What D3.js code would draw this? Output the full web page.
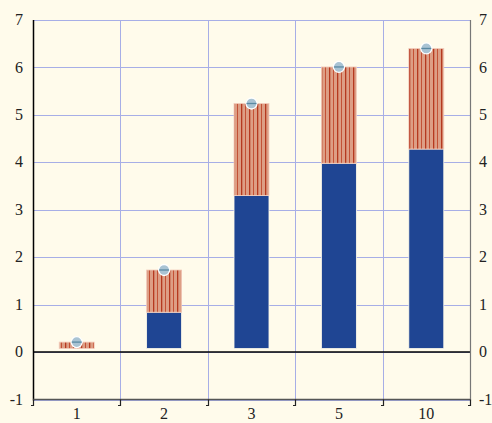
<!DOCTYPE html>
<html><head><meta charset="utf-8">
<script src="https://cdn.jsdelivr.net/npm/d3@7"></script>
<style>html,body{margin:0;padding:0;background:#fffbeb;}svg{display:block}</style>
</head><body><svg id="c" width="492" height="423"></svg>
<script>
const categories = ["1","2","3","5","10"];
const baseValues = [0.0, 0.84, 3.30, 3.98, 4.28];
const topValues = [0.21, 0.89, 1.94, 2.03, 2.12];
const markerValues = [0.21, 1.73, 5.24, 6.01, 6.40];
const yTicks = [-1,0,1,2,3,4,5,6,7];

const svg = d3.select("#c");
const W=492,H=423;
svg.append("rect").attr("width",W).attr("height",H).attr("fill","#fffbeb");
const m={l:33,r:470,t:20,b:399.5};
const x=d3.scaleBand().domain(categories).range([m.l,m.r]).paddingInner(0).paddingOuter(0);
const y=d3.scaleLinear().domain([-1,7]).range([m.b,m.t]);
const font="'Liberation Serif','Times New Roman',serif";

const defs=svg.append("defs");
const pat=defs.append("pattern").attr("id","hatch").attr("patternUnits","userSpaceOnUse").attr("width",8).attr("height",10);
pat.append("rect").attr("width",8).attr("height",10).attr("fill","#dd9e85");
pat.append("rect").attr("x",1).attr("width",1.3).attr("height",10).attr("fill","#b5391f");
pat.append("rect").attr("x",5).attr("width",0.9).attr("height",10).attr("fill","#c0482c");

// grid
const g=svg.append("g");
g.selectAll(".hg").data(yTicks).join("line").attr("x1",m.l).attr("x2",m.r)
 .attr("y1",d=>Math.round(y(d))+0.5).attr("y2",d=>Math.round(y(d))+0.5).attr("stroke","#a7aee6").attr("stroke-width",1);
const bounds=categories.slice(1).map(c=>x(c));
g.selectAll(".vg").data(bounds).join("line").attr("x1",d=>Math.round(d)+0.5).attr("x2",d=>Math.round(d)+0.5)
 .attr("y1",m.t).attr("y2",m.b).attr("stroke","#a7aee6");

// bars
const bw=x.bandwidth()*0.4;
const off=3.5;
const bars=svg.append("g");
categories.forEach((c,i)=>{
  const cx=x(c)+x.bandwidth()/2;
  const b0=y(0)-off, b1=y(baseValues[i]);
  if(baseValues[i]>0){
    bars.append("rect").attr("x",cx-bw/2).attr("y",b1).attr("width",bw).attr("height",b0-b1)
      .attr("fill","#1f4593").attr("stroke","#fffbeb").attr("stroke-width",0.8);
  }
  const t0=baseValues[i]>0?b1:b0, t1=y(baseValues[i]+topValues[i]);
  bars.append("rect").attr("x",cx-bw/2).attr("y",t1).attr("width",bw).attr("height",t0-t1)
    .attr("fill","url(#hatch)").attr("stroke","#f3cdbd").attr("stroke-width",0.8);
});

// zero line
svg.append("line").attr("x1",m.l).attr("x2",m.r).attr("y1",y(0)).attr("y2",y(0)).attr("stroke","#000").attr("stroke-width",1.5);

// markers
const mk=svg.append("g");
categories.forEach((c,i)=>{
  const cx=x(c)+x.bandwidth()/2, cy=y(markerValues[i]);
  mk.append("circle").attr("cx",cx).attr("cy",cy).attr("r",5.5).attr("fill","#a9c3d3").attr("stroke","#ffffff").attr("stroke-width",1.3);
  mk.append("line").attr("x1",cx-5).attr("x2",cx+5).attr("y1",cy).attr("y2",cy).attr("stroke","#5b8aa3").attr("stroke-width",1.3);
});

// axes
svg.append("line").attr("x1",m.l+0.5).attr("x2",m.l+0.5).attr("y1",m.t).attr("y2",m.b+1).attr("stroke","#000").attr("stroke-width",1.5);
svg.append("line").attr("x1",m.r+0.5).attr("x2",m.r+0.5).attr("y1",m.t).attr("y2",m.b+1).attr("stroke","#777").attr("stroke-width",1.2);
svg.append("line").attr("x1",m.l).attr("x2",m.r).attr("y1",m.b).attr("y2",m.b).attr("stroke","#555").attr("stroke-width",1.3);
const ticks=[m.l,...bounds,m.r];
ticks.forEach(t=>{
  const tx=Math.round(t)+0.5;
  svg.append("path").attr("d",`M${tx},${m.b} V${m.b+6} H${tx-2.5}`).attr("fill","none").attr("stroke","#222").attr("stroke-width",1.2);
});

// labels
svg.selectAll(".yl").data(yTicks).join("text").attr("x",23).attr("y",d=>y(d)).attr("dy","0.32em")
 .attr("text-anchor","end").attr("font-family",font).attr("font-size",16).attr("fill","#222").text(d=>d);
svg.selectAll(".yr").data(yTicks).join("text").attr("x",479).attr("y",d=>y(d)).attr("dy","0.32em")
 .attr("text-anchor","start").attr("font-family",font).attr("font-size",16).attr("fill","#222").text(d=>d);
svg.selectAll(".xl").data(categories).join("text").attr("x",d=>x(d)+x.bandwidth()/2).attr("y",419)
 .attr("text-anchor","middle").attr("font-family",font).attr("font-size",16).attr("fill","#222").text(d=>d);
</script></body></html>
